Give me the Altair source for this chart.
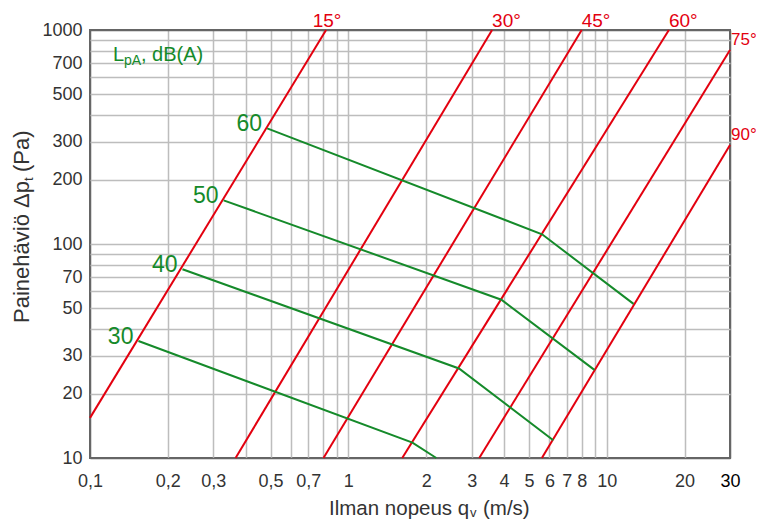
import altair as alt
import pandas as pd

# ---- axis grid / tick values ----
x_grid = [0.1, 0.2, 0.3, 0.4, 0.5, 0.6, 0.7, 0.8, 0.9, 1, 2, 3, 4, 5, 6, 7, 8, 9, 10, 20, 30]
x_labels = ["0.1", "0.2", "0.3", "0.5", "0.7", "1", "2", "3", "4", "5", "6", "7", "8", "10", "20", "30"]
y_grid = [10, 20, 30, 40, 50, 60, 70, 80, 90, 100, 200, 300, 400, 500, 600, 700, 800, 900, 1000]
y_labels = ["10", "20", "30", "50", "70", "100", "200", "300", "500", "700", "1000"]

# ---- red blade-angle lines (endpoints) ----
angle_names = ["15°", "30°", "45°", "60°", "75°", "90°"]
angle_x_start = [0.1, 0.366, 0.801, 1.616, 3.21, 5.61]
angle_y_start = [15.4, 10, 10, 10, 10, 10]
angle_x_end = [0.82, 3.60, 8.0, 17.4, 30, 30]
angle_y_end = [1000, 1000, 1000, 1000, 806, 290]

# ---- green sound level lines ----
level_names = ["60", "50", "40", "30"]
level_x = [[0.485, 5.62, 12.7], [0.329, 3.91, 8.96], [0.228, 2.68, 6.21], [0.154, 1.77, 2.19]]
level_y = [[347, 111, 52.5], [160, 54.9, 25.8], [76.2, 26.2, 12.1], [35.2, 11.8, 10]]

RED = "#e3000f"
GREEN = "#158a2a"
GRAY = "#333333"
FONT = "Liberation Sans"

red_rows = []
for n, xs, ys, xe, ye in zip(angle_names, angle_x_start, angle_y_start, angle_x_end, angle_y_end):
    red_rows.append({"angle": n, "x": xs, "y": ys, "o": 0})
    red_rows.append({"angle": n, "x": xe, "y": ye, "o": 1})
red_df = pd.DataFrame(red_rows)
red_end = red_df[red_df.o == 1]

green_rows = []
for n, xs, ys in zip(level_names, level_x, level_y):
    for i, (a, b) in enumerate(zip(xs, ys)):
        green_rows.append({"level": n, "x": a, "y": b, "o": i})
green_df = pd.DataFrame(green_rows)
green_start = green_df[green_df.o == 0]

x_label_expr = "indexof(" + str(x_labels) + ", toString(datum.value)) >= 0 ? replace(toString(datum.value), '.', ',') : ''"
y_label_expr = "indexof(" + str(y_labels) + ", toString(datum.value)) >= 0 ? toString(datum.value) : ''"

xscale = alt.Scale(type="log", domain=[0.1, 30], nice=False)
yscale = alt.Scale(type="log", domain=[10, 1000], nice=False)

xaxis = alt.Axis(values=x_grid, labelExpr=x_label_expr, title=None, grid=True,
                 gridColor={"condition": {"test": "datum.value == 0.1 || datum.value == 30", "value": "#666666"}, "value": "#bdbdbd"},
                 labelColor={"condition": {"test": "datum.value == 30", "value": "#000000"}, "value": GRAY},
                 labelPadding=14)
yaxis = alt.Axis(values=y_grid, labelExpr=y_label_expr, title=None, grid=True,
                 gridColor={"condition": {"test": "datum.value == 10 || datum.value == 1000", "value": "#666666"}, "value": "#bdbdbd"},
                 labelColor=GRAY, labelPadding=8)

base_x = alt.X("x:Q", scale=xscale, axis=xaxis)
base_y = alt.Y("y:Q", scale=yscale, axis=yaxis)

red_lines = alt.Chart(red_df).mark_line(color=RED, strokeWidth=2).encode(
    x=base_x, y=base_y, detail="angle:N", order="o:Q")
green_lines = alt.Chart(green_df).mark_line(color=GREEN, strokeWidth=2).encode(
    x=alt.X("x:Q", scale=xscale), y=alt.Y("y:Q", scale=yscale), detail="level:N", order="o:Q")

tx = alt.X("x:Q", scale=xscale)
ty = alt.Y("y:Q", scale=yscale)

red_lab15 = alt.Chart(red_end).transform_filter("datum.angle == '15°'").mark_text(
    color=RED, font=FONT, fontSize=19, align="center", baseline="alphabetic", dy=-3, dx=1
).encode(x=tx, y=ty, text="angle:N")
red_labtop = alt.Chart(red_end).transform_filter("datum.angle == '30°' || datum.angle == '45°' || datum.angle == '60°'").mark_text(
    color=RED, font=FONT, fontSize=19, align="left", baseline="alphabetic", dy=-3
).encode(x=tx, y=ty, text="angle:N")
red_labright = alt.Chart(red_end).transform_filter("datum.angle == '75°' || datum.angle == '90°'").mark_text(
    color=RED, font=FONT, fontSize=17, align="left", baseline="alphabetic", dx=1, dy=-5
).encode(x=tx, y=ty, text="angle:N")

green_lab = alt.Chart(green_start).mark_text(
    color=GREEN, font=FONT, fontSize=23, align="right", baseline="alphabetic", dx=-5, dy=3
).encode(x=tx, y=ty, text="level:N")

one = pd.DataFrame({"a": [0]})


def txt(s, x, y, size, color, angle=0):
    kw = dict(text=s, font=FONT, fontSize=size, color=color, align="left", baseline="alphabetic")
    if angle:
        kw["angle"] = angle
    return alt.Chart(one).mark_text(**kw).encode(x=alt.value(x), y=alt.value(y))


annots = [
    txt("Ilman nopeus q", 239, 485, 20.5, GRAY),
    txt("v", 380, 487, 13, GRAY),
    txt("(m/s)", 393, 485, 20.5, GRAY),
    txt("Painehäviö Δp", -61, 293, 22, GRAY, 270),
    txt("t", -57, 151, 13, GRAY, 270),
    txt("(Pa)", -61, 142, 22, GRAY, 270),
    txt("L", 23, 31, 20, GREEN),
    txt("pA", 34, 35, 14, GREEN),
    txt(", dB(A)", 51, 31, 20, GREEN),
]

chart = alt.layer(red_lines, green_lines, red_lab15, red_labtop, red_labright, green_lab, *annots).properties(
    width=640, height=428,
    autosize=alt.AutoSizeParams(type="none"),
    padding={"left": 82, "top": 22, "right": 26, "bottom": 64},
).configure_view(
    stroke="#666666", strokeWidth=2
).configure_axis(
    domain=False, ticks=False, gridWidth=1.5, gridOpacity=1,
    labelFont=FONT, labelFontSize=18, labelOverlap=False, labelFlush=False, labelBound=False
)

chart.save("out.html", embed_options={"renderer": "svg", "actions": False})
